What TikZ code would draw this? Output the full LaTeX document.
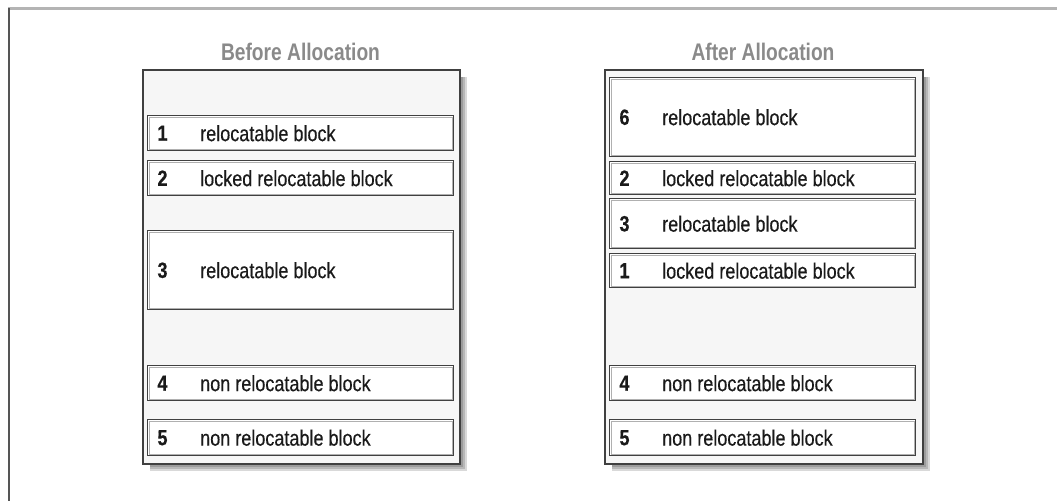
\documentclass[tikz,border=0pt]{standalone}
\usepackage{fontspec}
\setmainfont{Liberation Sans}
\newfontfamily\blockfont[FakeStretch=0.82,FakeBold=0.4]{Liberation Sans}
\newfontfamily\titlefont[FakeStretch=0.8]{Liberation Sans}
\definecolor{framedark}{HTML}{555555}
\definecolor{framelight}{HTML}{B4B4B4}
\definecolor{boxdark}{HTML}{404040}
\definecolor{boxinner}{HTML}{B0B0B0}
\definecolor{panelfill}{HTML}{F6F6F6}
\definecolor{titlegray}{HTML}{8A8A8A}
\definecolor{textdark}{HTML}{1A1A1A}
\tikzset{
  panel/.style={draw=boxdark, fill=panelfill, line width=1.8pt, anchor=north west, inner sep=0pt},
  blk/.style={draw=boxdark, fill=white, line width=1.3pt, anchor=north west, inner sep=0pt, minimum width=306pt},
  innerline/.style={draw=boxinner, line width=0.9pt},
  numtxt/.style={font=\blockfont\fontsize{22}{24}\selectfont\bfseries, text=textdark, inner sep=0pt, text depth=0pt},
  blktxt/.style={font=\blockfont\fontsize{22}{24}\selectfont, text=textdark, inner sep=0pt, text depth=0pt, anchor=west},
  paneltitle/.style={font=\titlefont\fontsize{24}{26}\selectfont\bfseries, text=titlegray, inner sep=0pt},
}
% #1 name, #2 x left, #3 y top, #4 height, #5 number, #6 label
\newcommand\memblock[6]{%
  \node[blk, minimum height=#4pt] (#1) at (#2,#3) {};
  \draw[innerline] ([xshift=2.3pt,yshift=-2.3pt]#1.north west) rectangle ([xshift=-2.3pt,yshift=2.3pt]#1.south east);
  \node[numtxt] (#1num) at ([xshift=15.5pt]#1.west) {#5};
  \node[blktxt] (#1txt) at ([xshift=53pt]#1.west) {#6};
}
% shadow: #1 x1, #2 y1, #3 x2, #4 y2
\newcommand\panelshadow[4]{%
  \foreach \k in {2,4,6,8} {
    \fill[black, opacity=0.15] (#1+8,#2+8) rectangle (#3+\k,#4+\k);
  }
}
\begin{document}
\begin{tikzpicture}[x=1pt,y=-1pt]
\useasboundingbox (0,0) rectangle (1057,501);
\fill[white] (0,0) rectangle (1057,501);
% outer frame
\draw[framelight, line width=2.6pt] (8,8.5) -- (1057,8.5);
\draw[framedark, line width=1.8pt] (9,8) -- (9,501);

% left panel
\panelshadow{142}{69}{459}{463}
\node[panel, minimum width=317pt, minimum height=394pt] (before) at (142,69) {};
\node[paneltitle] (beforetitle) at (300.5,52) {Before Allocation};
\memblock{bone}{147}{115}{35}{1}{relocatable block}
\memblock{btwo}{147}{160}{35}{2}{locked relocatable block}
\memblock{bthree}{147}{230}{79}{3}{relocatable block}
\memblock{bfour}{147}{365}{35}{4}{non relocatable block}
\memblock{bfive}{147}{419}{36}{5}{non relocatable block}

% right panel
\panelshadow{604}{69}{922}{463}
\node[panel, minimum width=318pt, minimum height=394pt] (after) at (604,69) {};
\node[paneltitle] (aftertitle) at (763,52) {After Allocation};
\memblock{asix}{609}{77}{79}{6}{relocatable block}
\memblock{atwo}{609}{161}{33}{2}{locked relocatable block}
\memblock{athree}{609}{198}{50}{3}{relocatable block}
\memblock{aone}{609}{253}{34}{1}{locked relocatable block}
\memblock{afour}{609}{365}{35}{4}{non relocatable block}
\memblock{afive}{609}{419}{36}{5}{non relocatable block}
\end{tikzpicture}
\end{document}
